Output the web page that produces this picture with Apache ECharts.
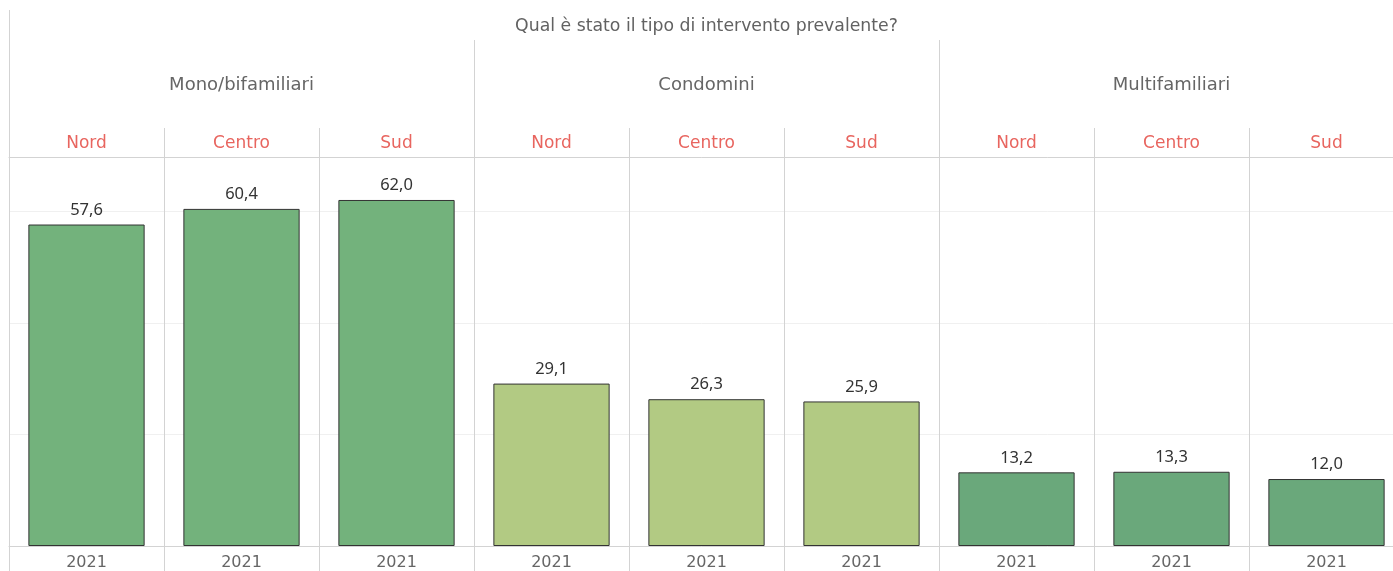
<!DOCTYPE html>
<html>
<head>
    <meta charset="utf-8">
    <title>Tipo di intervento prevalente</title>
    <script src="https://cdn.jsdelivr.net/npm/echarts@6/dist/echarts.min.js"></script>
    <style type="text/css">
        * { margin: 0; padding: 0; }
        body { background: #fff; overflow: hidden; }
    </style>
</head>
<body>
<div id="main" style="width: 1393px; height: 571px;"></div>
<script type="text/javascript">
    // dati
    var titleText = 'Qual è stato il tipo di intervento prevalente?';
    var groups = ['Mono/bifamiliari', 'Condomini', 'Multifamiliari'];
    var regions = ['Nord', 'Centro', 'Sud'];
    var yearLabel = '2021';
    var monoValues = [57.6, 60.4, 62.0];
    var condValues = [29.1, 26.3, 25.9];
    var multiValues = [13.2, 13.3, 12.0];
    var yTicks = [0, 20, 40, 60];

    var groupColors = ['#73b27c', '#b2ca83', '#6aa87b'];
    var lineColor = '#d3d3d3';
    var font = 'Noto Sans';
    var headFont = 'DejaVu Sans';

    var groupValues = [monoValues, condValues, multiValues];
    var cats = [], regionCats = [], barData = [];
    groups.forEach(function (g, gi) {
        regions.forEach(function (r, ri) {
            cats.push(g + '|' + r);
            regionCats.push(r);
            barData.push({
                value: groupValues[gi][ri],
                itemStyle: { color: groupColors[gi] }
            });
        });
    });

    // ogni colonna è larga 155px, l'ultima esce un po' dal bordo destro
    var colW = 155;
    var left = 9;
    var fullW = colW * cats.length;

    function band(top, height) {
        return { left: left, top: top, width: fullW, height: height,
            containLabel: false, outerBoundsMode: 'none' };
    }

    function headerAxis(idx, data, margin, size, color, showLine) {
        return {
            type: 'category', gridIndex: idx, data: data,
            axisLine: { show: !!showLine, lineStyle: { color: lineColor, width: 1 } },
            axisTick: { show: false },
            axisLabel: { show: true, inside: true, interval: 0, margin: margin,
                fontFamily: headFont, fontSize: size, color: color },
            splitLine: { show: true, interval: 0, lineStyle: { color: lineColor, width: 1 } }
        };
    }

    function hiddenY(idx) {
        return { type: 'value', gridIndex: idx, show: false };
    }

    var myChart = echarts.init(document.getElementById('main'));

    var option = {
        backgroundColor: '#fff',
        animation: false,
        grid: [
            band(10, 30),    // titolo
            band(40, 88),    // gruppi
            band(128, 29),   // regioni
            band(157, 389),  // barre
            band(546, 25)    // anni
        ],
        xAxis: [
            headerAxis(0, [titleText], 5, 17.3, '#626262'),
            headerAxis(1, groups, 34, 18, '#666'),
            headerAxis(2, regionCats, 5, 17, '#e8655f', true),
            {
                type: 'category', gridIndex: 3, data: cats,
                axisLine: { show: true, lineStyle: { color: lineColor, width: 1 } },
                axisTick: { show: false },
                axisLabel: { interval: 0, margin: 9, fontFamily: headFont, fontSize: 16, color: '#666',
                    formatter: function () { return yearLabel; } },
                splitLine: { show: true, interval: 0, lineStyle: { color: lineColor, width: 1 } }
            },
            {
                type: 'category', gridIndex: 4, data: cats,
                axisLine: { show: false }, axisTick: { show: false },
                axisLabel: { show: false },
                splitLine: { show: true, interval: 0, lineStyle: { color: lineColor, width: 1 } }
            }
        ],
        yAxis: [
            hiddenY(0), hiddenY(1), hiddenY(2),
            {
                type: 'value', gridIndex: 3, min: yTicks[0], max: 69.7,
                interval: yTicks[1] - yTicks[0],
                axisLine: { show: false }, axisTick: { show: false }, axisLabel: { show: false },
                splitLine: { show: true, lineStyle: { color: '#f0f0f0', width: 1 } }
            },
            hiddenY(4)
        ],
        series: [
            {
                type: 'bar',
                xAxisIndex: 3,
                yAxisIndex: 3,
                barWidth: '75%',
                itemStyle: { borderColor: '#333', borderWidth: 1 },
                label: {
                    show: true, position: 'top', distance: 6,
                    fontFamily: font, fontSize: 16.5, color: '#333',
                    formatter: function (p) { return p.value.toFixed(1).replace('.', ','); }
                },
                data: barData
            }
        ]
    };

    myChart.setOption(option);

    window.addEventListener('resize', function () {
        myChart.resize();
    });
</script>
</body>
</html>
